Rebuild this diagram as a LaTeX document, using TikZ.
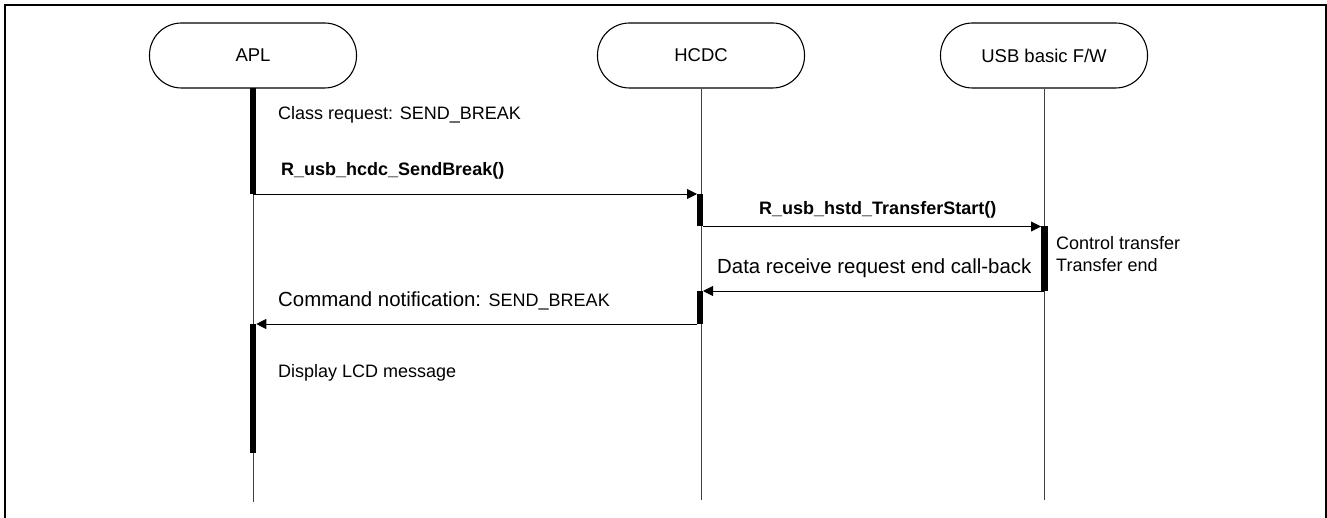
\documentclass[tikz,border=0pt]{standalone}
\usepackage{fontspec}
\setmainfont{Liberation Sans}
\usetikzlibrary{arrows.meta}
\begin{document}
\begin{tikzpicture}[x=1pt,y=-1pt,
  actor/.style={draw=black, line width=1.1pt, rounded corners=32pt,
    minimum width=207pt, minimum height=65pt, inner sep=0pt,
    font=\fontsize{18.5}{21}\selectfont},
  lifeline/.style={draw=black!75, line width=0.9pt},
  actbar/.style={fill=black, draw=none},
  msg/.style={draw=black, line width=0.9pt, -{Triangle[length=10pt,width=10pt]}},
  lbl/.style={anchor=base west, inner sep=0pt, font=\fontsize{18}{21}\selectfont},
  biglbl/.style={anchor=base west, inner sep=0pt, font=\fontsize{20.4}{23}\selectfont},
  boldlbl/.style={anchor=base west, inner sep=0pt, font=\bfseries\fontsize{18}{21}\selectfont},
]
\useasboundingbox (0,0) rectangle (1327,518);

% outer frame (open at the bottom)
\draw[line width=2pt] (4.5,518) -- (4.5,5.5) -- (1325.5,5.5) -- (1325.5,518);

% participants
\node[actor] (apl)  at (253,55.5)  {APL};
\node[actor] (hcdc) at (701,55.5)  {HCDC};
\node[actor] (usb)  at (1044,55.5) {USB basic F/W};

% lifelines
\coordinate (aplend)  at (253,502);
\coordinate (hcdcend) at (701,500);
\coordinate (usbend)  at (1044,500);
\draw[lifeline] (apl) -- (aplend);
\draw[lifeline] (hcdc) -- (hcdcend);
\draw[lifeline] (usb) -- (usbend);

% activation bars
\fill[actbar] (249.8,88) rectangle (256.3,194);
\fill[actbar] (696.5,194) rectangle (703,226.5);
\fill[actbar] (1041,226.5) rectangle (1047.5,291);
\fill[actbar] (696.5,291) rectangle (703,324);
\fill[actbar] (249.8,324) rectangle (256.3,453);

% message end points
\coordinate (m1s) at (253,194);    \coordinate (m1e) at (697,194);
\coordinate (m2s) at (703,226.5);  \coordinate (m2e) at (1041,226.5);
\coordinate (m3s) at (1044,291);   \coordinate (m3e) at (703,291);
\coordinate (m4s) at (696.5,324);  \coordinate (m4e) at (256.3,324);

\draw[msg] (m1s) -- (m1e);
\draw[msg] (m2s) -- (m2e);
\draw[msg] (m3s) -- (m3e);
\draw[msg] (m4s) -- (m4e);

% labels
\node[lbl] (t1) at (278,120) {Class request: SEND\_BREAK};
\node[boldlbl] (t2) at (281,176) {R\_usb\_hcdc\_SendBreak()};
\node[boldlbl] (t3) at (759,215) {R\_usb\_hstd\_TransferStart()};
\node[lbl] (t4) at (1056,250) {Control transfer};
\node[lbl] (t5) at (1056,272) {Transfer end};
\node[biglbl] (t6) at (717,274) {Data receive request end call-back};
\node[biglbl] (t7) at (278,306.5) {Command notification: {\fontsize{18}{21}\selectfont SEND\_BREAK}};
\node[lbl] (t8) at (278,377.5) {Display LCD message};
\end{tikzpicture}
\end{document}
